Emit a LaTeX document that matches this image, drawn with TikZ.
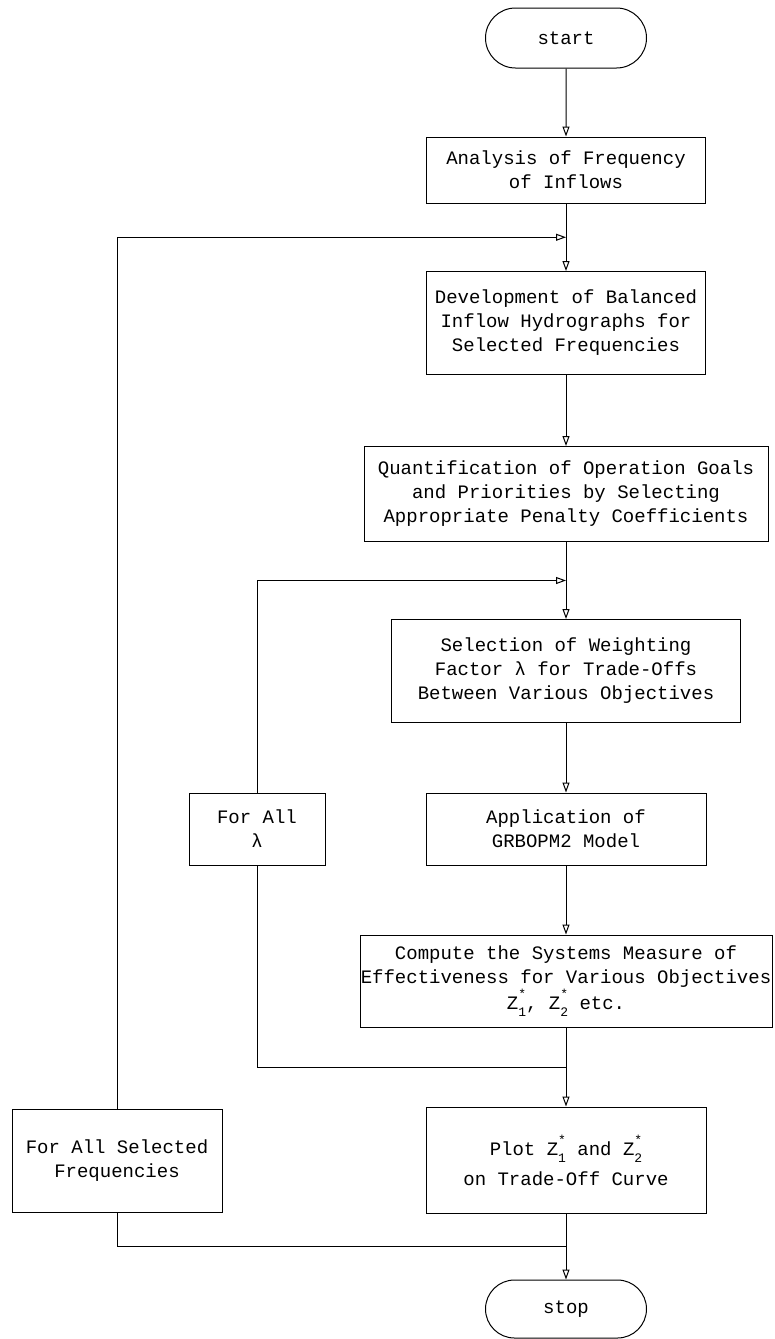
\documentclass[tikz,border=0pt]{standalone}
\usepackage{fontspec}
\setmonofont{Liberation Mono}
\usetikzlibrary{arrows.meta, shapes.misc, calc}

\newcommand{\zst}[1]{Z\rlap{\raisebox{11pt}{\fontsize{13}{13}\selectfont *}}\raisebox{-7pt}{\fontsize{13}{13}\selectfont #1}}

\begin{document}
\begin{tikzpicture}[
    x=1pt, y=-1pt,
    box/.style={draw, line width=1pt, inner sep=0pt, align=center, font=\ttfamily\fontsize{19}{24}\selectfont},
    term/.style={box, rounded rectangle},
    flow/.style={line width=1pt, -{Triangle[open, length=10pt, width=7pt]}},
    link/.style={line width=1pt}
  ]
  \useasboundingbox (0,0) rectangle (774,1339);

  \node[term, minimum width=161pt, minimum height=60pt] (start) at (566,38) {start};
  \node[box, minimum width=279pt, minimum height=66pt] (ana) at (566,170) {Analysis of Frequency\\of Inflows};
  \node[box, minimum width=279pt, minimum height=103pt] (dev) at (566,323) {Development of Balanced\\Inflow Hydrographs for\\Selected Frequencies};
  \node[box, minimum width=404pt, minimum height=95pt] (quant) at (566,494) {Quantification of Operation Goals\\and Priorities by Selecting\\Appropriate Penalty Coefficients};
  \node[box, minimum width=349pt, minimum height=103pt] (sel) at (566,671) {Selection of Weighting\\Factor λ for Trade-Offs\\Between Various Objectives};
  \node[box, minimum width=280pt, minimum height=72pt] (app) at (566,829) {Application of\\GRBOPM2 Model};
  \node[box, minimum width=136pt, minimum height=72pt] (lam) at (257,829) {For All\\λ};
  \node[box, minimum width=412pt, minimum height=92pt] (comp) at (566,981) {Compute the Systems Measure of\\Effectiveness for Various Objectives\\\zst{1}, \zst{2} etc.};
  \node[box, minimum width=280pt, minimum height=106pt] (plot) at (566,1160) {Plot \zst{1} and \zst{2}\\[6pt]on Trade-Off Curve};
  \node[box, minimum width=210pt, minimum height=103pt] (freq) at (117,1161) {For All Selected\\Frequencies};
  \node[term, minimum width=161pt, minimum height=58pt] (stop) at (566,1309) {stop};

  \coordinate (j1) at ($(ana.south)!0.5!(dev.north)$);
  \coordinate (j2) at ($(quant.south)!0.5!(sel.north)$);
  \coordinate (j3) at ($(comp.south)!0.5!(plot.north)$);
  \coordinate (j4) at ($(plot.south)!0.5!(stop.north)$);

  \draw[flow] (start) -- (ana);
  \draw[flow] (ana) -- (dev);
  \draw[flow] (dev) -- (quant);
  \draw[flow] (quant) -- (sel);
  \draw[flow] (sel) -- (app);
  \draw[flow] (app) -- (comp);
  \draw[flow] (comp) -- (plot);
  \draw[flow] (plot) -- (stop);

  \draw[flow] (freq.north) |- (j1);
  \draw[flow] (lam.north) |- (j2);
  \draw[link] (lam.south) |- (j3);
  \draw[link] (freq.south) |- (j4);

\end{tikzpicture}
\end{document}
